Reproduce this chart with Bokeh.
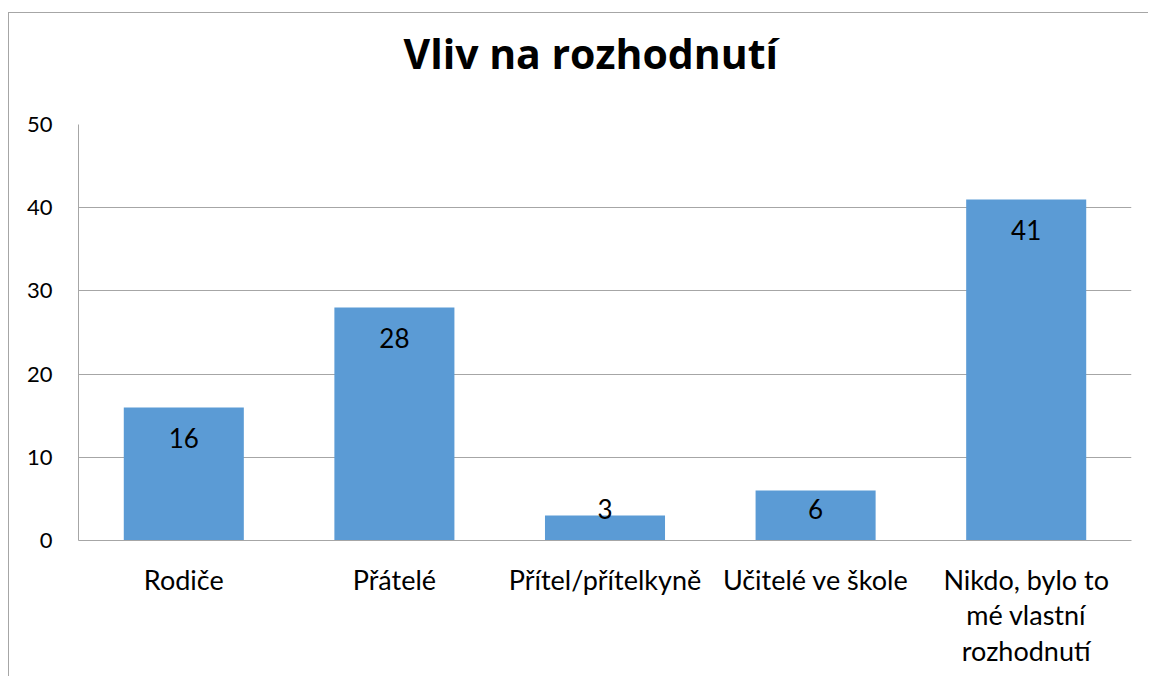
from bokeh.plotting import figure
from bokeh.models import ColumnDataSource, Range1d, FactorRange, SingleIntervalTicker, Title
from bokeh.core.properties import value
from bokeh.embed import file_html
from bokeh.resources import INLINE

categories = ["Rodiče", "Přátelé", "Přítel/přítelkyně", "Učitelé ve škole",
              "Nikdo, bylo to\nmé vlastní\nrozhodnutí"]
counts = [16, 28, 3, 6, 41]
title_text = "Vliv na rozhodnutí"

FONT = "Lato"
label_y = [max(v - 3.65, 3.75) for v in counts]
src = ColumnDataSource(dict(cat=categories, val=counts, ly=label_y,
                            txt=[str(v) for v in counts]))

p = figure(x_range=FactorRange(*categories, range_padding=0),
           y_range=Range1d(0, 50),
           width=1140, height=664, output_backend="svg", toolbar_location=None,
           min_border_left=69, min_border_right=18, min_border_bottom=137,
           min_border_top=111)
p.styles = {"border-left": "1px solid #A6A6A6", "border-top": "1px solid #A6A6A6",
            "margin-top": "12px", "margin-left": "8px"}

# spacer between frame and title
p.add_layout(Title(text=" ", text_font_size="1px", standoff=41), "above")

p.title.text = title_text
p.title.align = "left"
p.title.offset = 325
p.title.text_font = "Open Sans"
p.title.text_font_size = "41px"
p.title.text_font_style = "bold"
p.title.text_color = "#000000"
p.title.standoff = 0

p.vbar(x="cat", top="val", width=0.57, source=src, fill_color="#5B9BD5",
       line_color=None)
p.text(x="cat", y="ly", text="txt", source=src, text_align="center",
       text_baseline="middle", text_font=value(FONT), text_font_size="26px",
       text_color="#000000")

p.outline_line_color = None
p.xgrid.grid_line_color = None
p.ygrid.grid_line_color = "#A6A6A6"
p.ygrid.grid_line_width = 1
p.yaxis.ticker = SingleIntervalTicker(interval=10)
for ax in (p.xaxis, p.yaxis):
    ax.axis_line_color = "#A6A6A6"
    ax.major_tick_line_color = None
    ax.minor_tick_line_color = None
    ax.major_label_text_font = FONT
    ax.major_label_text_color = "#000000"
p.yaxis.major_label_text_font_size = "22px"
p.yaxis.major_label_standoff = 20
p.xaxis.major_label_text_font_size = "27px"
p.xaxis.major_label_text_line_height = 1.08
p.xaxis.major_label_standoff = 16

open("out.html", "w").write(file_html(p, INLINE))
